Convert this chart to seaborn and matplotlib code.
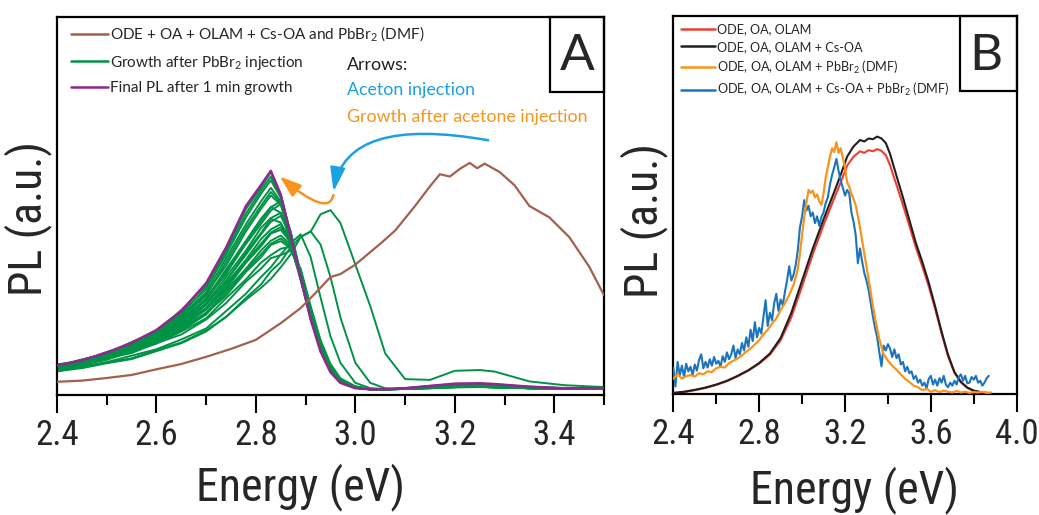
import numpy as np
import pandas as pd
import matplotlib
matplotlib.use("Agg")
import matplotlib.pyplot as plt
import seaborn as sns
from matplotlib import font_manager
from matplotlib.ticker import MultipleLocator, FormatStrFormatter
from matplotlib.patches import Rectangle
from matplotlib.lines import Line2D

# ---------------- Panel A data ----------------
brown_x = [2.40, 2.45, 2.50, 2.55, 2.60, 2.65, 2.70, 2.75, 2.80, 2.85, 2.89, 2.92, 2.95, 2.97,
           3.00, 3.05, 3.08, 3.12, 3.15, 3.17, 3.19, 3.21, 3.23, 3.245, 3.26, 3.29, 3.32, 3.35,
           3.39, 3.43, 3.47, 3.50]
brown_y = [0.035, 0.038, 0.045, 0.053, 0.068, 0.082, 0.101, 0.122, 0.146, 0.190, 0.230, 0.270,
           0.312, 0.320, 0.345, 0.400, 0.435, 0.500, 0.552, 0.584, 0.578, 0.598, 0.614, 0.600,
           0.612, 0.590, 0.555, 0.500, 0.470, 0.418, 0.340, 0.264]

grid_x = [2.40, 2.45, 2.50, 2.55, 2.60, 2.65, 2.70, 2.74, 2.78, 2.81, 2.83, 2.85, 2.87, 2.89,
          2.91, 2.93, 2.95, 2.97, 3.00, 3.03, 3.06, 3.10, 3.15, 3.20, 3.25, 3.28, 3.35, 3.42, 3.50]

final_y = [0.078, 0.092, 0.112, 0.138, 0.172, 0.222, 0.296, 0.390, 0.500, 0.555, 0.593, 0.530,
           0.420, 0.310, 0.200, 0.115, 0.060, 0.032, 0.018, 0.015, 0.015, 0.018, 0.024, 0.030,
           0.031, 0.029, 0.022, 0.018, 0.018]

g01 = [0.074, 0.093, 0.110, 0.140, 0.168, 0.225, 0.290, 0.385, 0.492, 0.548, 0.590, 0.530, 0.425, 0.312, 0.205, 0.118, 0.062, 0.034, 0.019, 0.015, 0.015, 0.018, 0.024, 0.029, 0.030, 0.028, 0.022, 0.018, 0.019]
g02 = [0.081, 0.090, 0.114, 0.134, 0.170, 0.214, 0.284, 0.372, 0.470, 0.532, 0.568, 0.522, 0.425, 0.315, 0.208, 0.120, 0.063, 0.034, 0.019, 0.015, 0.015, 0.017, 0.023, 0.028, 0.029, 0.027, 0.021, 0.018, 0.018]
g03 = [0.072, 0.089, 0.106, 0.135, 0.163, 0.210, 0.272, 0.362, 0.452, 0.512, 0.548, 0.512, 0.420, 0.312, 0.207, 0.121, 0.064, 0.035, 0.019, 0.015, 0.015, 0.017, 0.022, 0.027, 0.028, 0.026, 0.020, 0.017, 0.018]
g04 = [0.079, 0.088, 0.108, 0.128, 0.162, 0.202, 0.268, 0.342, 0.433, 0.492, 0.528, 0.503, 0.416, 0.311, 0.208, 0.122, 0.065, 0.035, 0.020, 0.015, 0.015, 0.017, 0.022, 0.026, 0.027, 0.025, 0.020, 0.017, 0.017]
g05 = [0.070, 0.087, 0.103, 0.129, 0.156, 0.200, 0.255, 0.332, 0.408, 0.466, 0.497, 0.512, 0.432, 0.322, 0.213, 0.125, 0.066, 0.036, 0.020, 0.015, 0.015, 0.017, 0.021, 0.025, 0.026, 0.024, 0.019, 0.017, 0.017]
g06 = [0.076, 0.088, 0.107, 0.127, 0.158, 0.194, 0.254, 0.320, 0.402, 0.458, 0.497, 0.482, 0.408, 0.306, 0.205, 0.121, 0.065, 0.035, 0.020, 0.015, 0.015, 0.017, 0.021, 0.024, 0.025, 0.023, 0.019, 0.017, 0.017]
g07 = [0.068, 0.085, 0.100, 0.126, 0.151, 0.192, 0.243, 0.312, 0.382, 0.442, 0.468, 0.482, 0.424, 0.320, 0.214, 0.126, 0.068, 0.037, 0.020, 0.015, 0.015, 0.017, 0.020, 0.024, 0.025, 0.023, 0.019, 0.017, 0.017]
g08 = [0.074, 0.086, 0.105, 0.124, 0.153, 0.186, 0.241, 0.300, 0.377, 0.428, 0.466, 0.456, 0.398, 0.303, 0.204, 0.121, 0.066, 0.036, 0.020, 0.015, 0.015, 0.017, 0.020, 0.023, 0.024, 0.022, 0.018, 0.017, 0.017]
g09 = [0.066, 0.084, 0.098, 0.123, 0.147, 0.186, 0.230, 0.294, 0.358, 0.412, 0.438, 0.452, 0.414, 0.320, 0.216, 0.128, 0.069, 0.037, 0.021, 0.015, 0.015, 0.016, 0.020, 0.023, 0.024, 0.022, 0.018, 0.017, 0.017]
g10 = [0.072, 0.083, 0.102, 0.119, 0.148, 0.178, 0.228, 0.281, 0.350, 0.393, 0.427, 0.437, 0.404, 0.316, 0.215, 0.128, 0.070, 0.038, 0.021, 0.015, 0.015, 0.016, 0.019, 0.022, 0.023, 0.021, 0.018, 0.017, 0.017]
g11 = [0.065, 0.082, 0.096, 0.119, 0.142, 0.177, 0.218, 0.277, 0.334, 0.382, 0.408, 0.422, 0.398, 0.315, 0.217, 0.130, 0.072, 0.039, 0.021, 0.015, 0.015, 0.016, 0.019, 0.022, 0.023, 0.021, 0.018, 0.017, 0.017]
g12 = [0.071, 0.081, 0.100, 0.116, 0.143, 0.170, 0.216, 0.263, 0.326, 0.364, 0.397, 0.407, 0.388, 0.314, 0.219, 0.132, 0.074, 0.040, 0.022, 0.016, 0.015, 0.016, 0.019, 0.021, 0.022, 0.021, 0.018, 0.017, 0.017]
g13 = [0.064, 0.080, 0.093, 0.115, 0.136, 0.168, 0.203, 0.256, 0.306, 0.350, 0.370, 0.387, 0.392, 0.330, 0.230, 0.140, 0.078, 0.042, 0.022, 0.016, 0.015, 0.016, 0.018, 0.021, 0.022, 0.020, 0.018, 0.017, 0.017]
g14 = [0.069, 0.079, 0.097, 0.111, 0.137, 0.160, 0.200, 0.243, 0.300, 0.334, 0.362, 0.370, 0.382, 0.334, 0.236, 0.145, 0.082, 0.044, 0.023, 0.016, 0.015, 0.016, 0.018, 0.021, 0.022, 0.020, 0.018, 0.017, 0.017]
g15 = [0.062, 0.076, 0.087, 0.104, 0.121, 0.147, 0.176, 0.222, 0.268, 0.312, 0.338, 0.372, 0.402, 0.425, 0.365, 0.258, 0.155, 0.085, 0.032, 0.018, 0.016, 0.016, 0.018, 0.021, 0.022, 0.020, 0.018, 0.017, 0.017]
g16 = [0.066, 0.073, 0.086, 0.097, 0.119, 0.139, 0.171, 0.206, 0.257, 0.292, 0.327, 0.352, 0.392, 0.418, 0.433, 0.398, 0.312, 0.205, 0.085, 0.032, 0.018, 0.016, 0.018, 0.020, 0.021, 0.020, 0.018, 0.017, 0.017]
g17 = [0.063, 0.071, 0.084, 0.095, 0.116, 0.137, 0.168, 0.207, 0.252, 0.283, 0.307, 0.338, 0.372, 0.418, 0.432, 0.478, 0.489, 0.455, 0.345, 0.235, 0.110, 0.042, 0.040, 0.064, 0.066, 0.062, 0.036, 0.026, 0.021]
g18 = [0.077, 0.094, 0.109, 0.137, 0.166, 0.219, 0.280, 0.380, 0.480, 0.540, 0.578, 0.527, 0.428, 0.316, 0.207, 0.119, 0.062, 0.034, 0.019, 0.015, 0.015, 0.018, 0.023, 0.028, 0.029, 0.027, 0.021, 0.018, 0.018]
g19 = [0.075, 0.087, 0.109, 0.131, 0.160, 0.207, 0.262, 0.352, 0.442, 0.500, 0.537, 0.508, 0.420, 0.313, 0.208, 0.122, 0.065, 0.035, 0.019, 0.015, 0.015, 0.017, 0.022, 0.026, 0.027, 0.025, 0.020, 0.017, 0.017]
g20 = [0.069, 0.089, 0.101, 0.127, 0.154, 0.197, 0.250, 0.326, 0.400, 0.452, 0.488, 0.505, 0.430, 0.322, 0.214, 0.125, 0.067, 0.036, 0.020, 0.015, 0.015, 0.017, 0.021, 0.025, 0.026, 0.024, 0.019, 0.017, 0.017]
g21 = [0.073, 0.084, 0.103, 0.121, 0.152, 0.185, 0.238, 0.303, 0.371, 0.425, 0.458, 0.474, 0.420, 0.320, 0.214, 0.126, 0.068, 0.037, 0.020, 0.015, 0.015, 0.017, 0.020, 0.023, 0.024, 0.022, 0.018, 0.017, 0.017]
g22 = [0.067, 0.085, 0.097, 0.121, 0.145, 0.182, 0.226, 0.288, 0.354, 0.400, 0.430, 0.444, 0.410, 0.319, 0.216, 0.128, 0.070, 0.038, 0.021, 0.015, 0.015, 0.016, 0.019, 0.022, 0.023, 0.021, 0.018, 0.017, 0.017]
g23 = [0.070, 0.080, 0.099, 0.117, 0.140, 0.172, 0.213, 0.270, 0.330, 0.372, 0.400, 0.414, 0.393, 0.314, 0.218, 0.131, 0.073, 0.039, 0.022, 0.016, 0.015, 0.016, 0.019, 0.021, 0.022, 0.021, 0.018, 0.017, 0.017]
green_curves = [g01, g02, g03, g04, g05, g06, g07, g08, g09, g10, g11, g12, g13, g14, g15, g16,
                g17, g18, g19, g20, g21, g22, g23]

legend_A = ["ODE + OA + OLAM + Cs-OA and PbBr$_\\mathregular{2}$ (DMF)",
            "Growth after PbBr$_\\mathregular{2}$ injection",
            "Final PL after 1 min growth"]
arrow_texts = ["Arrows:", "Aceton injection", "Growth after acetone injection"]

# ---------------- Panel B data ----------------
bs_x = [2.40, 2.45, 2.50, 2.55, 2.60, 2.65, 2.70, 2.75, 2.80, 2.85, 2.90, 2.95, 3.00, 3.05, 3.10,
        3.15, 3.18, 3.21, 3.24, 3.27, 3.29, 3.31, 3.33, 3.35, 3.37, 3.39, 3.41, 3.44, 3.47, 3.50,
        3.53, 3.56, 3.59, 3.62, 3.65, 3.68, 3.71, 3.74, 3.77, 3.80, 3.84, 3.88]
black_y = [0.003, 0.006, 0.011, 0.017, 0.025, 0.035, 0.048, 0.063, 0.082, 0.107, 0.148, 0.215,
           0.300, 0.385, 0.462, 0.535, 0.580, 0.628, 0.655, 0.672, 0.668, 0.676, 0.674, 0.681,
           0.676, 0.664, 0.635, 0.577, 0.520, 0.460, 0.400, 0.350, 0.295, 0.232, 0.165, 0.104,
           0.058, 0.032, 0.017, 0.009, 0.004, 0.002]
red_y = [0.002, 0.005, 0.010, 0.016, 0.024, 0.034, 0.047, 0.062, 0.080, 0.104, 0.142, 0.203,
         0.285, 0.370, 0.447, 0.518, 0.560, 0.604, 0.628, 0.642, 0.638, 0.645, 0.642, 0.648,
         0.643, 0.632, 0.605, 0.553, 0.500, 0.445, 0.388, 0.338, 0.285, 0.225, 0.160, 0.100,
         0.056, 0.031, 0.016, 0.008, 0.004, 0.002]

orange_x = [2.40, 2.42, 2.44, 2.46, 2.48, 2.50, 2.52, 2.54, 2.56, 2.58, 2.60, 2.62, 2.64, 2.66,
            2.68, 2.70, 2.72, 2.74, 2.76, 2.78, 2.80, 2.82, 2.84, 2.86, 2.88, 2.90, 2.92, 2.94,
            2.96, 2.98, 2.99, 3.00, 3.01, 3.02, 3.03, 3.04, 3.05, 3.06, 3.07, 3.08, 3.09, 3.10,
            3.11, 3.12, 3.13, 3.14, 3.15, 3.16, 3.17, 3.18, 3.19, 3.20, 3.21, 3.22, 3.23, 3.24,
            3.25, 3.26, 3.27, 3.28, 3.30, 3.32, 3.34, 3.36, 3.38, 3.40, 3.42, 3.44, 3.46, 3.48,
            3.50, 3.52, 3.54, 3.56, 3.58, 3.60, 3.62, 3.64, 3.66, 3.68, 3.70, 3.72, 3.74, 3.76,
            3.78, 3.80, 3.82, 3.84, 3.86, 3.88]
orange_y = [0.040, 0.052, 0.041, 0.047, 0.050, 0.046, 0.055, 0.052, 0.060, 0.058, 0.068, 0.072,
            0.070, 0.082, 0.088, 0.094, 0.102, 0.112, 0.120, 0.131, 0.142, 0.158, 0.170, 0.186,
            0.200, 0.222, 0.240, 0.262, 0.288, 0.330, 0.372, 0.420, 0.468, 0.505, 0.540, 0.532,
            0.538, 0.520, 0.528, 0.510, 0.500, 0.530, 0.572, 0.600, 0.628, 0.650, 0.640, 0.666,
            0.638, 0.650, 0.625, 0.598, 0.560, 0.548, 0.530, 0.515, 0.500, 0.470, 0.440, 0.405,
            0.338, 0.268, 0.200, 0.145, 0.105, 0.088, 0.075, 0.064, 0.052, 0.040, 0.032, 0.022,
            0.018, 0.010, 0.014, 0.006, 0.010, 0.005, 0.009, 0.006, 0.004, 0.008, 0.004, 0.006,
            0.003, 0.005, 0.004, 0.006, 0.003, 0.004]

blue_x = [round(2.40 + 0.01 * i, 2) for i in range(148)]
blue_y = [0.070, 0.020, 0.085, 0.050, 0.075, 0.045, 0.080, 0.060, 0.072, 0.050,
          0.078, 0.062, 0.090, 0.105, 0.068, 0.085, 0.070, 0.092, 0.075, 0.098,
          0.080, 0.088, 0.072, 0.100, 0.085, 0.110, 0.092, 0.105, 0.128, 0.095,
          0.118, 0.105, 0.135, 0.115, 0.150, 0.125, 0.170, 0.140, 0.190, 0.150,
          0.175, 0.160, 0.205, 0.248, 0.180, 0.215, 0.195, 0.240, 0.265, 0.220,
          0.250, 0.235, 0.270, 0.300, 0.338, 0.300, 0.315, 0.340, 0.380, 0.440,
          0.470, 0.513, 0.485, 0.498, 0.470, 0.480, 0.452, 0.470, 0.445, 0.468,
          0.480, 0.505, 0.520, 0.555, 0.580, 0.600, 0.622, 0.590, 0.565, 0.545,
          0.525, 0.540, 0.530, 0.480, 0.455, 0.420, 0.346, 0.385, 0.350, 0.320,
          0.300, 0.275, 0.240, 0.205, 0.175, 0.150, 0.110, 0.073, 0.128, 0.115,
          0.132, 0.120, 0.098, 0.118, 0.095, 0.105, 0.078, 0.085, 0.060, 0.072,
          0.055, 0.060, 0.040, 0.048, 0.030, 0.038, 0.022, 0.030, 0.015, 0.040,
          0.048, 0.025, 0.038, 0.022, 0.042, 0.030, 0.048, 0.025, 0.018, 0.030,
          0.022, 0.035, 0.025, 0.045, 0.052, 0.035, 0.048, 0.028, 0.030, 0.045,
          0.038, 0.048, 0.030, 0.035, 0.022, 0.030, 0.042, 0.048]

legend_B = ["ODE, OA, OLAM", "ODE, OA, OLAM + Cs-OA",
            "ODE, OA, OLAM + PbBr$_\\mathregular{2}$ (DMF)",
            "ODE, OA, OLAM + Cs-OA + PbBr$_\\mathregular{2}$ (DMF)"]

# ---------------- style ----------------
sns.set_style("white")
names = {f.name for f in font_manager.fontManager.ttflist}
def pick(*cands):
    for c in cands:
        if c in names:
            return c
    return "DejaVu Sans"
NARROW = pick("Liberation Sans Narrow", "Roboto Condensed", "Open Sans Condensed", "Lato")
REG = pick("Lato", "Open Sans", "Noto Sans")
plt.rcParams["font.family"] = [REG, "DejaVu Sans"]
plt.rcParams["mathtext.fontset"] = "custom"
plt.rcParams["mathtext.rm"] = REG

C_BROWN = "#a3604f"
C_GREEN = "#009245"
C_PURPLE = "#92278f"
C_CYAN = "#1ba1e2"
C_ORANGE = "#f7941d"
C_RED = "#ef3e2f"
C_BLACK = "#231f20"
C_BLUE = "#1c75bc"

fig = plt.figure(figsize=(10.39, 5.15), dpi=100)
W, H = 1039.0, 515.0
axA = fig.add_axes([57 / W, (H - 395) / H, 547 / W, 378 / H])
axB = fig.add_axes([673.3 / W, (H - 394) / H, 343.4 / W, 378 / H])

# ---- Panel A ----
rows = []
for i, cy in enumerate(green_curves):
    for xv, yv in zip(grid_x, cy):
        rows.append({"E": xv, "PL": yv, "curve": i})
dfg = pd.DataFrame(rows)
sns.lineplot(data=dfg, x="E", y="PL", units="curve", estimator=None, sort=False,
             color=C_GREEN, lw=1.4, ax=axA, legend=False, zorder=2)
sns.lineplot(x=grid_x, y=final_y, color=C_PURPLE, lw=1.8, ax=axA, sort=False, zorder=3)
sns.lineplot(x=brown_x, y=brown_y, color=C_BROWN, lw=1.6, ax=axA, sort=False, zorder=4)

axA.annotate("", xy=(2.956, 0.538), xytext=(3.267, 0.674),
             arrowprops=dict(arrowstyle="-|>,head_length=1.45,head_width=0.45",
                             mutation_scale=10, color=C_CYAN, lw=1.8, shrinkA=0, shrinkB=0,
                             connectionstyle="angle3,angleA=-10,angleB=80"), zorder=6)
axA.annotate("", xy=(2.848, 0.578), xytext=(2.956, 0.529),
             arrowprops=dict(arrowstyle="-|>,head_length=1.3,head_width=0.45",
                             mutation_scale=10, color=C_ORANGE, lw=1.8, shrinkA=0, shrinkB=0,
                             connectionstyle="angle3,angleA=78,angleB=140"), zorder=6)

axA.set_xlim(2.4, 3.5)
axA.set_ylim(0, 1)
axA.xaxis.set_major_locator(MultipleLocator(0.2))
axA.xaxis.set_minor_locator(MultipleLocator(0.1))

hA = [Line2D([], [], color=C_BROWN, lw=1.8), Line2D([], [], color=C_GREEN, lw=1.8),
      Line2D([], [], color=C_PURPLE, lw=1.8)]
axA.legend(hA, legend_A, loc="upper left", bbox_to_anchor=(0.025, 0.979), frameon=False,
           borderpad=0, borderaxespad=0, fontsize=11, handlelength=2.44, handletextpad=0.15,
           labelspacing=0.62)

tx = 0.530
axA.text(tx, 0.860, arrow_texts[0], transform=axA.transAxes, fontsize=12.8, color="#231f20", va="baseline")
axA.text(tx, 0.794, arrow_texts[1], transform=axA.transAxes, fontsize=12.8, color=C_CYAN, va="baseline")
axA.text(tx, 0.723, arrow_texts[2], transform=axA.transAxes, fontsize=12.8, color=C_ORANGE, va="baseline")

axA.add_patch(Rectangle((0.901, 0.802), 0.099, 0.198, transform=axA.transAxes, fill=False,
                        ec="black", lw=1.6, clip_on=False, zorder=7))
axA.text(0.951, 0.896, "A", transform=axA.transAxes, fontsize=37, ha="center", va="center")

# ---- Panel B ----
sns.lineplot(x=bs_x, y=red_y, color=C_RED, lw=1.5, ax=axB, sort=False, zorder=2)
sns.lineplot(x=bs_x, y=black_y, color=C_BLACK, lw=1.5, ax=axB, sort=False, zorder=3)
sns.lineplot(x=blue_x, y=blue_y, color=C_BLUE, lw=1.5, ax=axB, sort=False, zorder=4)
sns.lineplot(x=orange_x, y=orange_y, color=C_ORANGE, lw=1.6, ax=axB, sort=False, zorder=5)

axB.set_xlim(2.4, 4.0)
axB.set_ylim(0, 1)
axB.xaxis.set_major_locator(MultipleLocator(0.4))
axB.xaxis.set_minor_locator(MultipleLocator(0.2))

hB = [Line2D([], [], color=c, lw=1.8) for c in (C_RED, C_BLACK, C_ORANGE, C_BLUE)]
axB.legend(hB, legend_B, loc="upper left", bbox_to_anchor=(0.0215, 0.981), frameon=False,
           borderpad=0, borderaxespad=0, fontsize=9.1, handlelength=2.75, handletextpad=0.12,
           labelspacing=0.45)
axB.add_patch(Rectangle((0.835, 0.802), 0.165, 0.198, transform=axB.transAxes, fill=False,
                        ec="black", lw=1.6, clip_on=False, zorder=7))
axB.text(0.910, 0.894, "B", transform=axB.transAxes, fontsize=37, ha="center", va="center")

# ---- common axis styling ----
label_pos = {axA: ((0.446, -0.243), (-0.053, 0.468)), axB: ((0.529, -0.255), (-0.085, 0.46))}
for ax in (axA, axB):
    for s in ax.spines.values():
        s.set_visible(True)
        s.set_color("black")
        s.set_linewidth(1.6)
    ax.set_yticks([])
    ax.xaxis.set_major_formatter(FormatStrFormatter("%.1f"))
    ax.tick_params(axis="x", which="major", direction="out", length=13, width=1.5,
                   color="black", pad=4, labelsize=25, bottom=True)
    ax.tick_params(axis="x", which="minor", direction="out", length=7, width=1.5,
                   color="black", bottom=True)
    for lab in ax.get_xticklabels():
        lab.set_fontfamily(NARROW)
    ax.set_xlabel("Energy (eV)", fontsize=33, fontfamily=NARROW)
    ax.set_ylabel("PL (a.u.)", fontsize=33, fontfamily=NARROW)
    ax.xaxis.label.set_verticalalignment("center")
    ax.yaxis.label.set_verticalalignment("center")
    (xl, yl) = label_pos[ax]
    ax.xaxis.set_label_coords(*xl)
    ax.yaxis.set_label_coords(*yl)

fig.savefig("out.png", dpi=100, facecolor="white")
